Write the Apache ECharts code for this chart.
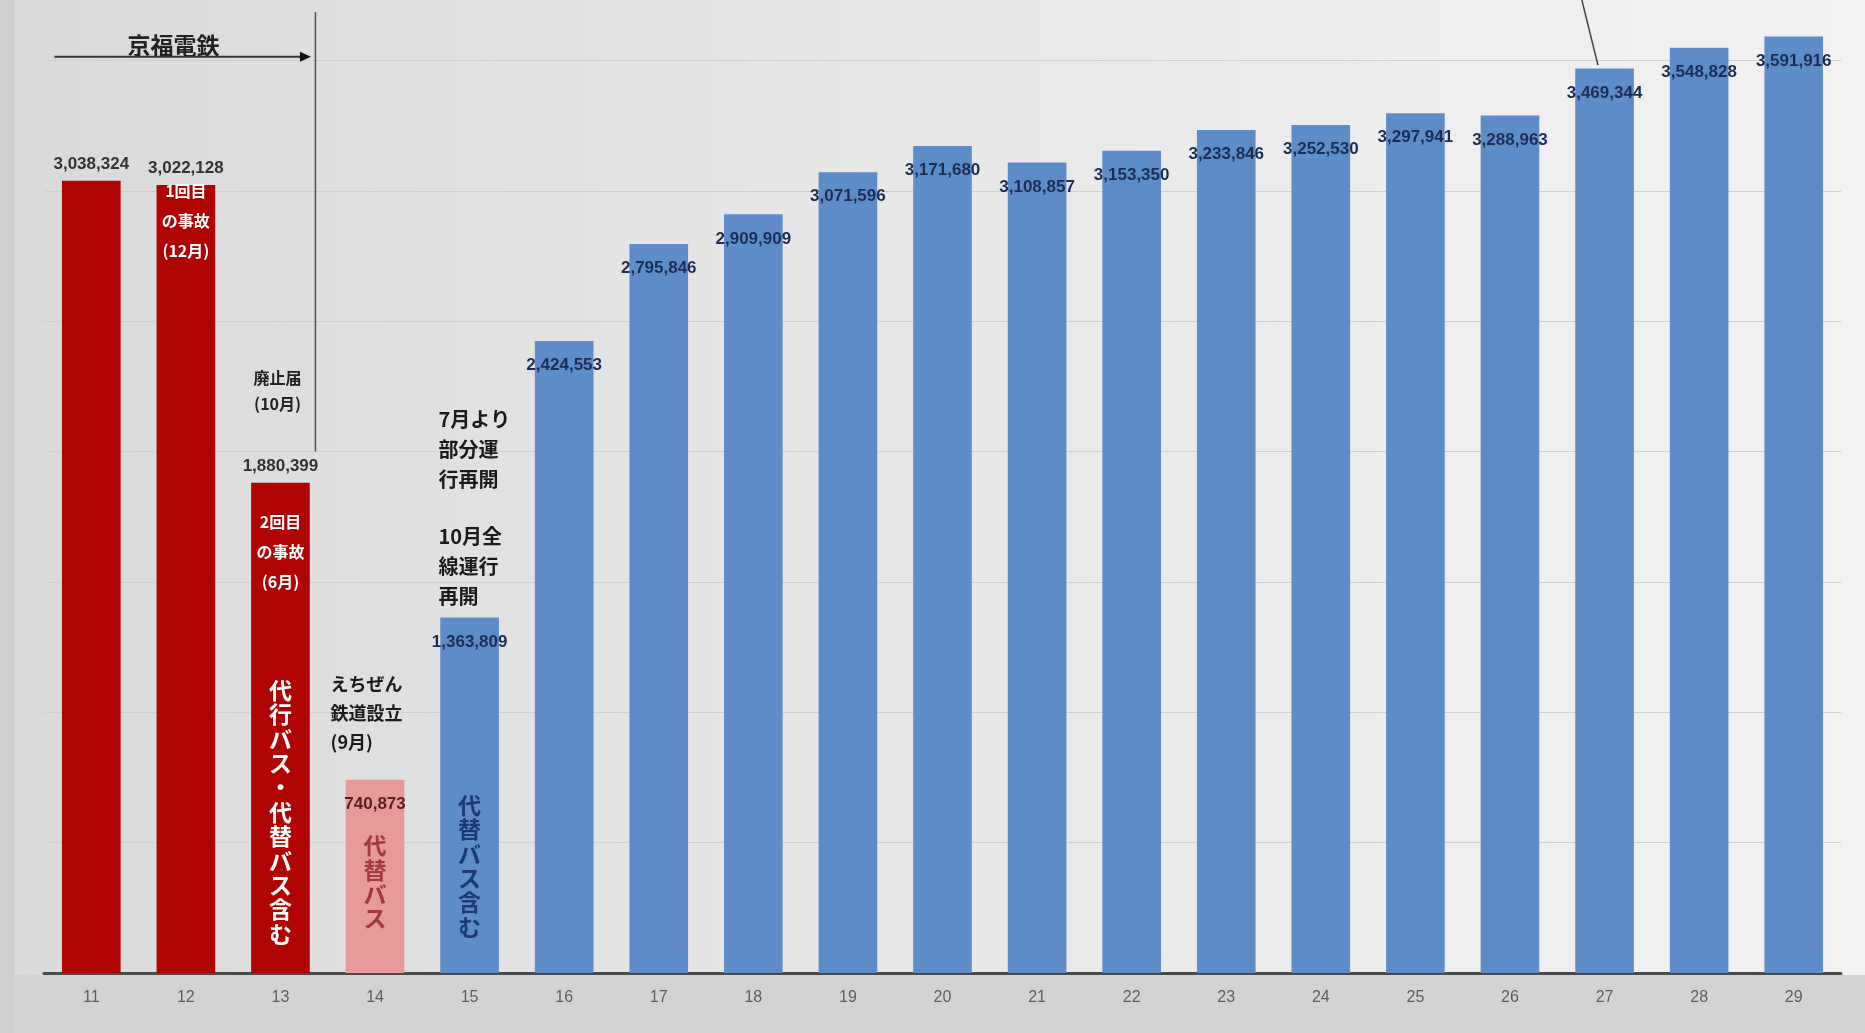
<!DOCTYPE html>
<html><head><meta charset="utf-8">
<script src="https://cdn.jsdelivr.net/npm/echarts@6/dist/echarts.min.js"></script>
<style>html,body{margin:0;padding:0;background:#e6e6e6;}#c{width:1865px;height:1033px;}</style>
</head><body><div id="c"></div>
<script>
// ---- data ----
const categories = ['11','12','13','14','15','16','17','18','19','20','21','22','23','24','25','26','27','28','29'];
const ridership = [3038324, 3022128, 1880399, 740873, 1363809, 2424553, 2795846, 2909909, 3071596, 3171680,
                   3108857, 3153350, 3233846, 3252530, 3297941, 3288963, 3469344, 3548828, 3591916];
const period = ['京福','京福','京福','代替','えちぜん','えちぜん','えちぜん','えちぜん','えちぜん','えちぜん',
                'えちぜん','えちぜん','えちぜん','えちぜん','えちぜん','えちぜん','えちぜん','えちぜん','えちぜん'];
const yMax = 3732000;
const yInterval = 500000;

// annotation texts (anchored in data space: category index + offset, value)
const notes = [
  {text:'京福電鉄', i:0.87, v:3560000, kind:'head'},
  {text:'廃止届\n(10月)', i:1.97, v:2233000, kind:'small'},
  {text:'7月より\n部分運\n行再開', i:3.67, v:2008000, kind:'note'},
  {text:'10月全\n線運行\n再開', i:3.67, v:1559000, kind:'note'},
  {text:'えちぜん\n鉄道設立\n(9月)', i:2.53, v:997000, kind:'note2'},
  {text:'1回目\nの事故\n(12月)', i:1, v:2886000, kind:'inRed'},
  {text:'2回目\nの事故\n(6月)', i:2, v:1615000, kind:'inRed'},
  {text:'代行バス・代替バス含む', i:2, v:617000, kind:'vertWhite'},
  {text:'代替バス', i:3, v:349000, kind:'vertPink'},
  {text:'代替バス含む', i:4, v:410000, kind:'vertBlue'}
];

const colorOf = {'京福':'#b00303','代替':'#e89a9a','えちぜん':'#5d8cc8'};
const FONT = "'Liberation Sans','Noto Sans CJK JP',sans-serif";
const JFONT = "'Noto Sans CJK JP','Liberation Sans',sans-serif";

const fmt = v => v.toLocaleString('en-US');

const chart = echarts.init(document.getElementById('c'), null, {renderer:'canvas'});

const seriesData = ridership.map((v, k) => {
  const p = period[k];
  const isRed = p === '京福';
  return {
    value: v,
    itemStyle: {color: colorOf[p]},
    label: {
      show: true,
      position: isRed ? 'top' : 'insideTop',
      distance: isRed ? 8 : 16,
      color: isRed ? '#333' : (p === '代替' ? '#5a2020' : '#1c2d55'),
      fontSize: 17,
      fontWeight: 'bold',
      fontFamily: FONT,
      formatter: () => fmt(v)
    }
  };
});

chart.setOption({
  animation: false,
  backgroundColor: new echarts.graphic.LinearGradient(0, 0, 1, 0, [
    {offset: 0, color: '#d9d9d9'}, {offset: 0.45, color: '#e7e7e7'}, {offset: 1, color: '#f2f2f2'}
  ]),
  grid: {left: 44, right: 24, top: 0, bottom: 60, containLabel: false},
  xAxis: {
    type: 'category',
    data: categories,
    axisLine: {show: true, lineStyle: {color: '#4a4a4a', width: 3}},
    axisTick: {show: false},
    axisLabel: {color: '#5e5e5e', fontSize: 16, fontFamily: FONT, margin: 17}
  },
  yAxis: {
    type: 'value', min: 0, max: yMax, interval: yInterval,
    axisLine: {show: false}, axisTick: {show: false}, axisLabel: {show: false},
    splitLine: {show: true, showMaxLine: false, lineStyle: {color: '#d0d0d0', width: 1}}
  },
  series: [{
    type: 'bar',
    data: seriesData,
    barWidth: '62%',
    z: 3
  }]
});

// ---- annotations placed through the axes ----
const c0 = chart.convertToPixel({xAxisIndex: 0}, categories[0]);
const c1 = chart.convertToPixel({xAxisIndex: 0}, categories[1]);
const band = c1 - c0;
const X = i => c0 + i * band;
const Y = v => chart.convertToPixel({yAxisIndex: 0}, v);

const styles = {
  head: {fontSize: 23, fontWeight: 'bold', fill: '#222', align: 'center', lineHeight: 26, font: JFONT},
  small: {fontSize: 16, fontWeight: 'bold', fill: '#222', align: 'center', lineHeight: 26, font: JFONT},
  note: {fontSize: 20, fontWeight: 'bold', fill: '#1a1a1a', align: 'left', lineHeight: 30, font: JFONT},
  note2: {fontSize: 18, fontWeight: 'bold', fill: '#1a1a1a', align: 'left', lineHeight: 29, font: JFONT},
  inRed: {fontSize: 16, fontWeight: 'bold', fill: '#fff', align: 'center', lineHeight: 30, font: JFONT},
  vertWhite: {fontSize: 23, fontWeight: 'bold', fill: '#fff', align: 'center', lineHeight: 24.4, font: JFONT, vertical: true},
  vertPink: {fontSize: 23, fontWeight: 'bold', fill: '#a53a3a', align: 'center', lineHeight: 24.4, font: JFONT, vertical: true},
  vertBlue: {fontSize: 23, fontWeight: 'bold', fill: '#1f3a72', align: 'center', lineHeight: 24.4, font: JFONT, vertical: true}
};

const graphics = [];
// bottom strip under axis
graphics.push({type: 'rect', silent: true, z: -10,
  shape: {x: 0, y: Y(0) + 2, width: 1865, height: 1033 - Y(0)}, style: {fill: '#d3d3d3'}});
graphics.push({type: 'rect', silent: true, z: -10,
  shape: {x: 0, y: 0, width: 14, height: 1033}, style: {fill: '#cfcfcf'}});

notes.forEach(n => {
  const s = styles[n.kind];
  const txt = s.vertical ? n.text.split('').join('\n') : n.text;
  graphics.push({
    type: 'text', silent: true, z: 20,
    x: X(n.i), y: Y(n.v),
    style: {
      text: txt, fill: s.fill, fontSize: s.fontSize, fontWeight: s.fontWeight,
      fontFamily: s.font, align: s.align, verticalAlign: 'middle', lineHeight: s.lineHeight
    }
  });
});

// 京福電鉄 period arrow
const ay = Y(3514000);
graphics.push({type: 'line', silent: true, z: 20,
  shape: {x1: X(-0.39), y1: ay, x2: X(2.28), y2: ay}, style: {stroke: '#333', lineWidth: 2}});
graphics.push({type: 'polygon', silent: true, z: 20,
  shape: {points: [[X(2.28) + 4, ay], [X(2.28) - 7, ay - 5], [X(2.28) - 7, ay + 5]]}, style: {fill: '#111'}});
// vertical divider
graphics.push({type: 'line', silent: true, z: 20,
  shape: {x1: X(2.37), y1: Y(3686000), x2: X(2.37), y2: Y(2000000)}, style: {stroke: '#555', lineWidth: 1.5}});
// leader line from the cut-off note to bar 27
graphics.push({type: 'line', silent: true, z: 20,
  shape: {x1: X(15.76), y1: Y(3732000), x2: X(15.93), y2: Y(3482000)}, style: {stroke: '#444', lineWidth: 1.5}});

chart.setOption({graphic: graphics});
</script>
</body></html>
